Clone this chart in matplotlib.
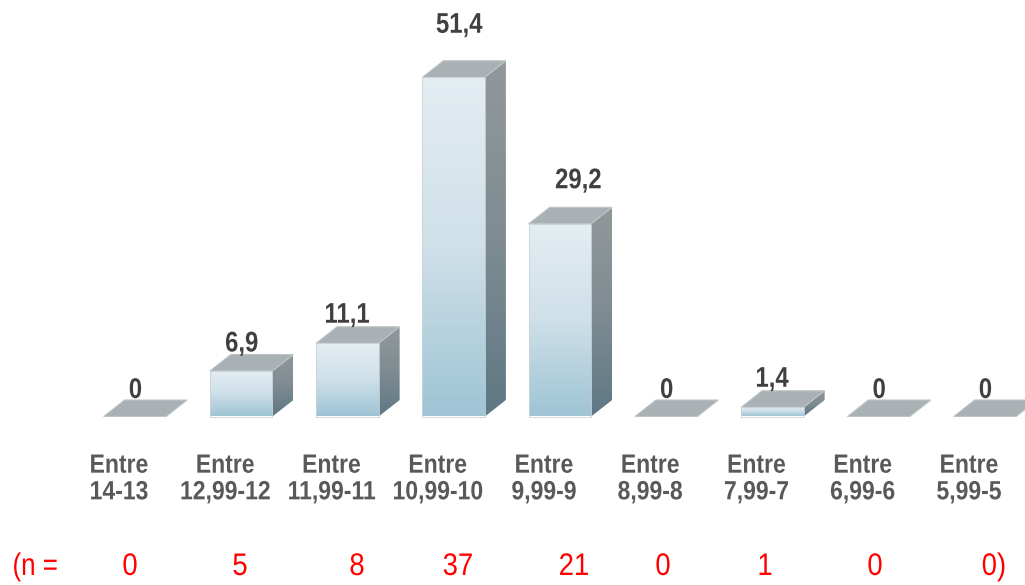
import numpy as np
import matplotlib
matplotlib.use('Agg')
import matplotlib.pyplot as plt
import matplotlib.patheffects as pe
from matplotlib.colors import LinearSegmentedColormap
from matplotlib.patches import Polygon
from matplotlib.transforms import Affine2D

# Данные
categories = ['Entre\n14-13', 'Entre\n12,99-12', 'Entre\n11,99-11', 'Entre\n10,99-10', 'Entre\n9,99-9',
              'Entre\n8,99-8', 'Entre\n7,99-7', 'Entre\n6,99-6', 'Entre\n5,99-5']
values = [0, 6.9, 11.1, 51.4, 29.2, 0, 1.4, 0, 0]
value_labels = ['0', '6,9', '11,1', '51,4', '29,2', '0', '1,4', '0', '0']
n_labels = ['0', '5', '8', '37', '21', '0', '1', '0', '0)']

# Геометрия в пикселях
W, H = 1025, 585
x0_px, step_px = 134.9, 106.25
base_px, unit_px = 416.5, 6.6
bar_w = 62.5 / step_px
dx = 21 / step_px
dy = 16.5 / unit_px

label_dx = [0.5, 0.5, -0.5, 5.5, 18.5, 0.5, -0.5, 0.5, 0.5]
label_up = [9, 10, 11, 35, 26, 9, 11, 9, 9]
n_x_px = [130, 240, 357, 458, 574, 663, 765, 875, 994]

plt.rcParams['font.family'] = ['Liberation Sans']

front_cmap = LinearSegmentedColormap.from_list('front', ['#E4EDF2', '#CFE0E9', '#9FC4D5'])
side_cmap = LinearSegmentedColormap.from_list('side', ['#92989A', '#7F8C92', '#5E7884'])


# Узкое начертание: сжимаем глифы по горизонтали вокруг центра строки
class Narrow(pe.AbstractPathEffect):
    def __init__(self, sx):
        super().__init__()
        self.sx = sx

    def draw_path(self, renderer, gc, tpath, affine, rgbFace=None):
        box = tpath.get_extents()
        cx = (box.x0 + box.x1) / 2
        squeeze = Affine2D().translate(-cx, 0).scale(self.sx, 1).translate(cx, 0)
        renderer.draw_path(gc, tpath, squeeze + affine, rgbFace)


fig = plt.figure(figsize=(W / 100, H / 100), dpi=100)
ax = fig.add_axes([0, 0, 1, 1])
ax.axis('off')


def gradient(poly, cmap, ext):
    im = ax.imshow(np.linspace(0, 1, 128).reshape(-1, 1), cmap=cmap, extent=ext,
                   aspect='auto', origin='upper', zorder=2)
    im.set_clip_path(poly)


for i, v in enumerate(values):
    l = i - bar_w / 2
    r = i + bar_w / 2
    top = Polygon([(l, v), (r, v), (r + dx, v + dy), (l + dx, v + dy)], fc='#A9B1B4', ec='#BEC5C8', lw=0.8, zorder=3)
    ax.add_patch(top)
    if v > 0:
        side = Polygon([(r, 0), (r + dx, dy), (r + dx, v + dy), (r, v)], fc='none', ec='none')
        ax.add_patch(side)
        gradient(side, side_cmap, (r, r + dx, 0, v + dy))
        front = Polygon([(l, 0), (r, 0), (r, v), (l, v)], fc='none', ec='none')
        ax.add_patch(front)
        gradient(front, front_cmap, (l, r, 0, v))
        ax.add_patch(Polygon([(l, 0), (r, 0), (r, v), (l, v)], fc='none', ec='#C9D3D8', lw=0.6, zorder=3))
    ax.text(i + label_dx[i] / step_px, v + dy + label_up[i] / unit_px, value_labels[i], ha='center', va='center',
            fontsize=20.5, fontweight='bold', color='#404040', zorder=4, path_effects=[Narrow(0.84)])
    ax.text(i - 16 / step_px, -(479 - base_px) / unit_px, categories[i], ha='center', va='center',
            fontsize=19, fontweight='bold', color='#595959', linespacing=1.14, zorder=4, path_effects=[Narrow(0.87)])
    ax.text((n_x_px[i] - x0_px) / step_px, -(567 - base_px) / unit_px, n_labels[i], ha='center', va='center',
            fontsize=22.5, color='#FF0000', zorder=4, path_effects=[Narrow(0.88)])

ax.text((35 - x0_px) / step_px, -(567 - base_px) / unit_px, '(n =', ha='center', va='center',
        fontsize=22.5, color='#FF0000', zorder=4, path_effects=[Narrow(0.83)])

ax.set_xlim(-x0_px / step_px, (W - x0_px) / step_px)
ax.set_ylim(-(H - base_px) / unit_px, base_px / unit_px)
fig.savefig('out.png', dpi=100)
